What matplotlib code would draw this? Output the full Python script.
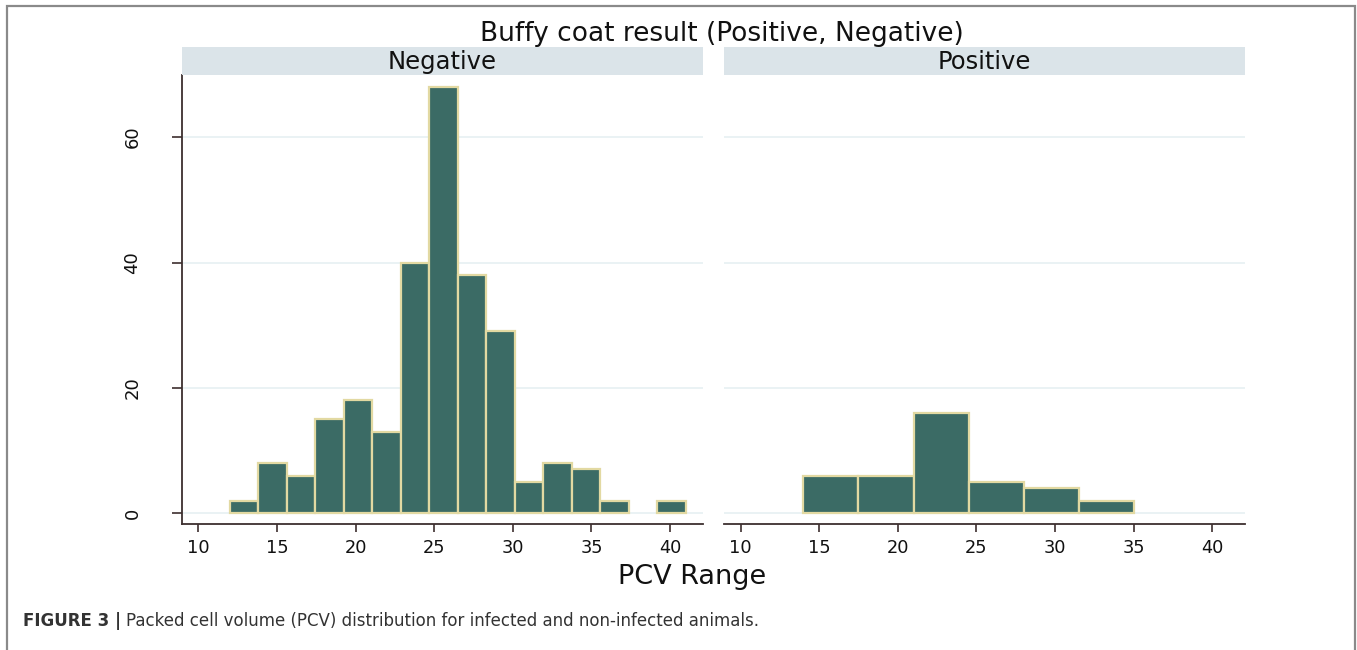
import matplotlib
matplotlib.use("Agg")
import matplotlib.pyplot as plt
from matplotlib.patches import Rectangle
import numpy as np

# histogram data
neg_edges = np.linspace(12, 41, 17)
neg_counts = [2, 8, 6, 15, 18, 13, 40, 68, 38, 29, 5, 8, 7, 2, 0, 2]
pos_edges = np.linspace(14, 35, 7)
pos_counts = [6, 6, 16, 5, 4, 2]

panels = ["Negative", "Positive"]
x_ticks = [10, 15, 20, 25, 30, 35, 40]
y_ticks = [0, 20, 40, 60]

bar_color = "#3b6b65"
bar_edge = "#e2d9a2"
axis_color = "#3d2f2f"
grid_color = "#e8f1f3"
strip_color = "#dbe4e9"

plt.rcParams["font.family"] = ["DejaVu Sans"]

W, H = 1357, 650
fig = plt.figure(figsize=(W / 100, H / 100), dpi=100)
fig.patch.set_facecolor("white")

ax_bottom = 1 - 524 / H
ax_height = (524 - 75) / H
lefts = [181.7 / W, 724 / W]
width = 521 / W

data = [(neg_edges, neg_counts), (pos_edges, pos_counts)]
for i, (edges, counts) in enumerate(data):
    ax = fig.add_axes([lefts[i], ax_bottom, width, ax_height])
    counts = np.array(counts)
    keep = counts > 0  # empty bins draw nothing
    ax.bar(edges[:-1][keep], counts[keep], width=np.diff(edges)[keep], align="edge",
           color=bar_color, edgecolor=bar_edge, linewidth=1.6, zorder=3)
    ax.set_xlim(8.95, 42.07)
    ax.set_ylim(-1.7, 69.9)
    ax.set_xticks(x_ticks)
    ax.set_yticks(y_ticks)
    for y in y_ticks:
        ax.axhline(y, color=grid_color, lw=1.3, zorder=1)
    for s in ["top", "right"]:
        ax.spines[s].set_visible(False)
    ax.spines["bottom"].set_color(axis_color)
    ax.spines["bottom"].set_linewidth(1.3)
    ax.tick_params(axis="x", length=5.5, width=1.2, color=axis_color,
                   labelsize=12.8, pad=5, labelcolor="#111111")
    if i == 0:
        ax.spines["left"].set_color(axis_color)
        ax.spines["left"].set_linewidth(1.3)
        ax.tick_params(axis="y", length=7, width=1.2, color=axis_color,
                       labelsize=13, pad=22, labelcolor="#111111")
        for lab in ax.get_yticklabels():
            lab.set_rotation(90)
            lab.set_va("center")
    else:
        ax.spines["left"].set_visible(False)
        ax.tick_params(axis="y", left=False, labelleft=False)

    # facet strip
    sax = fig.add_axes([lefts[i], 1 - 75 / H, width, 28.3 / H])
    sax.set_facecolor(strip_color)
    sax.set_xticks([])
    sax.set_yticks([])
    for s in sax.spines.values():
        s.set_visible(False)
    sax.text(0.5, 0.45, panels[i], ha="center", va="center",
             fontsize=17.5, color="#111111", transform=sax.transAxes)

fig.text(722 / W, 1 - 41 / H, "Buffy coat result (Positive, Negative)",
         ha="center", va="baseline", fontsize=19, color="#111111")
fig.text(692 / W, 1 - 584 / H, "PCV Range", ha="center", va="baseline",
         fontsize=19.5, color="#111111")

# caption
cap1 = fig.text(22.7 / W, 1 - 625.7 / H, "FIGURE 3 |", ha="left", va="baseline",
                fontsize=12, fontweight="bold", color="#333333")
fig.canvas.draw()
bb = cap1.get_window_extent(renderer=fig.canvas.get_renderer())
fig.text(bb.x1 / W + 5 / W, 1 - 625.7 / H,
         "Packed cell volume (PCV) distribution for infected and non-infected animals.",
         ha="left", va="baseline", fontsize=12, color="#333333")

# outer frame
fig.patches.append(Rectangle((7 / W, -0.02), (1355 - 7) / W, 1.02 - 6 / H,
                             transform=fig.transFigure, fill=False,
                             edgecolor="#8a8a8a", linewidth=1.6))

fig.savefig("out.png", dpi=100)
